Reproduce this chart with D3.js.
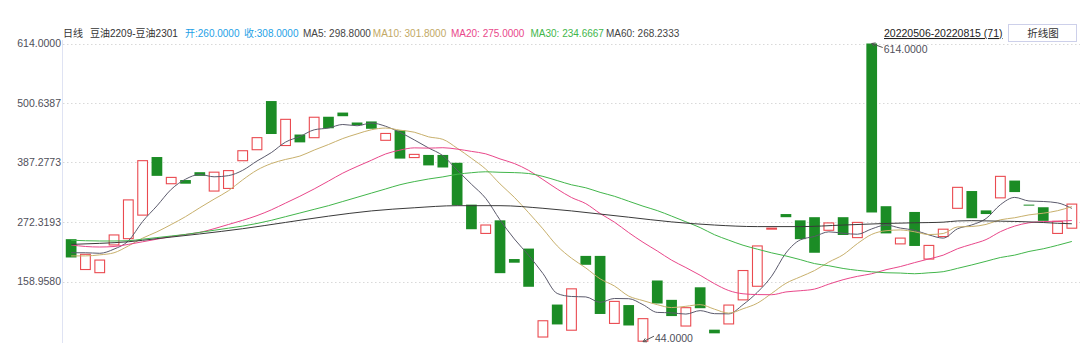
<!DOCTYPE html>
<html>
<head>
<meta charset="utf-8">
<script src="https://cdn.jsdelivr.net/npm/d3@7"></script>
<style>
  html, body { margin: 0; padding: 0; background: #fff; }
  svg { display: block; font-family: "Liberation Sans", Arial, "Noto Sans CJK SC", sans-serif; }
</style>
</head>
<body>
<script>
// 豆油2209-豆油2301 价差, 日线 20220506-20220815 (71)
const opens = [240, 181, 175, 228, 240, 285, 397, 345, 353, 368,
  331, 336, 389, 410, 504, 418, 440, 433, 474, 482,
  463, 465, 428, 448, 395, 401, 401, 386, 306, 250,
  276, 202, 222, 52, 115, 65, 208, 208, 78, 114,
  44, 161, 124, 73, 148, 67, 77, 123, 149, 259,
  288, 276, 282, 256, 282, 242, 614, 303, 230, 292,
  201, 244, 298, 332, 295, 318, 352, 306, 301, 250, 260];

const closes = [205, 212, 201, 249, 316, 391, 361, 359, 346, 361,
  369, 372, 410, 435, 441, 470, 425, 474, 452, 475,
  458, 451, 443, 394, 403, 381, 377, 305, 259, 268,
  175, 195, 149, 85, 77, 146, 191, 97, 122, 75,
  89, 117, 93, 110, 108, 60, 115, 181, 228, 262,
  282, 240, 214, 272, 248, 273, 291, 251, 243, 227,
  229, 260, 340, 280, 288, 361, 330, 306, 275, 275, 308];

// moving averages (null = not read)
const ma5 = [214, 214, 213, 221, 236.6, 273.8, 303.6, 335.2, 354.6, 363.6,
  359.2, 361.4, 371.6, 389.4, 405.4, 425.6, 436.2, 449, 452.4, 459.2,
  456.8, 462, 455.8, 444.2, 429.8, 414.4, 399.6, 372, 345, 318,
  276.8, 240.4, 209.2, 174.4, 136.2, 130.4, 129.6, 119.2, 126.6, 126.2,
  114.8, 100, 99.2, 96.8, 103.4, 97.6, 97.2, 114.8, 138.4, 169.2,
  213.6, 238.6, 245.2, 254, 251.2, 249.4, 259.6, 267, 261.2, 257,
  248.2, 242, 259.8, 267.2, 279.4, 305.8, 319.8, 313, 312, 309.4, 298.8];

const ma10 = [208, 208, 210, 214, 227, 242, 254, 268, 283, 300.1,
  316.5, 332.5, 353.4, 372, 384.5, 392.4, 398.8, 410.3, 420.9, 432.3,
  441.2, 449.1, 452.4, 448.3, 444.5, 435.6, 430.8, 413.9, 394.6, 373.9,
  345.6, 320, 290.6, 259.7, 227.1, 203.6, 185, 164.2, 150.5, 131.2,
  122.6, 114.8, 109.2, 111.7, 114.8, 106.2, 98.6, 107, 117.6, 136.3,
  155.6, 167.9, 180, 196.2, 210.2, 231.5, 249.1, 256.1, 257.6, 254.1,
  248.8, 250.8, 263.4, 264.2, 268.2, 277, 280.9, 286.4, 289.6, 294.4, 302.3];

const ma20 = [229, 226, 225, 226, 230, 235, 240, 245, 249, 253,
  260, 268, 276, 285, 296, 309, 322, 336, 351, 366.2,
  378.9, 390.8, 402.9, 410.2, 414.5, 414, 414.8, 412.1, 407.8, 403.1,
  393.4, 384.6, 371.5, 354, 335.8, 319.6, 307.9, 289.1, 272.6, 252.6,
  234.1, 217.4, 199.9, 185.7, 171, 154.9, 141.8, 135.6, 134.1, 133.8,
  139.1, 141.4, 144.6, 154, 162.5, 168.9, 173.9, 181.6, 187.6, 195.2,
  202.2, 209.4, 221.7, 230.2, 239.2, 254.3, 265, 271.3, 273.6, 274.3, 275.6];

const ma30 = [238, 237, 236.5, 236.5, 237, 240, 243, 246, 249, 253,
  257, 261, 265, 270, 276, 283, 290, 297, 304, 312,
  320, 328, 336, 344, 350, 355, 359, 364, 367, 368.8,
  367.8, 367.2, 365.5, 360, 352, 343.9, 338.2, 329.5, 322, 312.5,
  303.1, 294.6, 284.1, 273.2, 262.1, 248.5, 238.1, 228.4, 220.9, 213.8,
  207.9, 200.9, 193.3, 189.2, 184, 180.4, 177.6, 175.8, 175.2, 173.9,
  175.7, 177.8, 184.2, 190.7, 197.7, 204.9, 209.5, 216.5, 221.6, 228.3, 235.6];

const ma60 = [230, null, 232, null, 235, null, 241, null, null, 250,
  null, null, 260, null, null, 272, null, null, 284, null,
  null, 294, null, null, 300, null, null, 304, null, null,
  304, null, null, 299, null, 294, null, 288, null, 282,
  null, null, 273, null, null, 267, null, null, 264, null,
  null, 264, null, null, 267, null, null, 270, null, 271.3,
  271.7, 272.5, 274.8, 275.4, 274.9, 274.4, 273.9, 273, 271.8, 270.4, 269.4];

const yTicks = [614, 500.6387, 387.2773, 272.3193, 158.9580];
const lastOpen = 260, lastClose = 308;
const maNames = ["MA5", "MA10", "MA20", "MA30", "MA60"];
const maLast = [298.8, 301.8, 275.0, 234.6667, 268.2333];

const width = 1080, height = 343;
const upColor = "#ea4a50", downColor = "#1b8c25";
const maColors = ["#5b5a6c", "#c8b06c", "#e9478a", "#42b64b", "#3a3a3a"];
const fmt = d3.format(".4f");

const svg = d3.select("body").append("svg")
  .attr("width", width)
  .attr("height", height);

const x = d3.scaleBand()
  .domain(d3.range(closes.length))
  .range([64, 1079])
  .paddingInner(0.25)
  .paddingOuter(0.125);
const cx = i => x(i) + x.bandwidth() / 2;

const y = d3.scaleLinear().domain([44, 614]).range([341.7, 43.5]);

// dotted grid
svg.append("g")
  .selectAll("line")
  .data(yTicks)
  .join("line")
  .attr("x1", 63).attr("x2", width)
  .attr("y1", d => Math.round(y(d)) + 0.5)
  .attr("y2", d => Math.round(y(d)) + 0.5)
  .attr("stroke", "#d9d9d9")
  .attr("stroke-dasharray", "1.5,2.5");

// left axis
const axis = svg.append("g")
  .attr("transform", "translate(62,0)")
  .call(d3.axisLeft(y).tickValues(yTicks).tickFormat(fmt).tickSize(0).tickPadding(1));
axis.select(".domain").attr("stroke", "#dfe3f3").attr("d", "M0.5,343V40");
axis.selectAll("text").attr("fill", "#4f4f5a").style("font-size", "10.5px");

// candles
const candles = d3.range(closes.length).map(i => ({i, o: opens[i], c: closes[i]}));

svg.append("g")
  .selectAll("rect")
  .data(candles)
  .join("rect")
  .attr("x", d => d.c > d.o ? x(d.i) + 0.5 : x(d.i))
  .attr("width", d => d.c > d.o ? x.bandwidth() - 1 : x.bandwidth())
  .attr("y", d => d.c > d.o ? y(Math.max(d.o, d.c)) + 0.5 : y(Math.max(d.o, d.c)))
  .attr("height", d => {
    const h = Math.abs(y(d.o) - y(d.c));
    return d.c > d.o ? Math.max(1, h - 1) : Math.max(1, h);
  })
  .attr("fill", d => d.c > d.o ? "#fff" : downColor)
  .attr("stroke", d => d.c > d.o ? upColor : "none")
  .attr("stroke-width", 1.1);

// moving averages
const line = d3.line()
  .x(d => cx(d.i))
  .y(d => y(d.v))
  .curve(d3.curveMonotoneX);

[ma5, ma10, ma20, ma30, ma60].forEach((arr, k) => {
  const pts = arr.map((v, i) => ({i, v})).filter(d => d.v != null);
  svg.append("path")
    .datum(pts)
    .attr("d", line)
    .attr("fill", "none")
    .attr("stroke", maColors[k])
    .attr("stroke-width", 1);
});

// max / min markers
const allVals = opens.concat(closes);
const maxV = d3.max(allVals), minV = d3.min(allVals);
const maxI = d3.range(closes.length).find(i => opens[i] === maxV || closes[i] === maxV);
const minI = d3.range(closes.length).find(i => opens[i] === minV || closes[i] === minV);

function marker(i, v, dy) {
  const tx = cx(i), ty = y(v);
  const ex = tx + 11, ey = ty + dy;
  const g = svg.append("g").attr("stroke", "#555").attr("fill", "none").attr("stroke-width", 1);
  g.append("line").attr("x1", tx).attr("y1", ty).attr("x2", ex).attr("y2", ey);
  const a = Math.atan2(ey - ty, ex - tx);
  [0.5, -0.5].forEach(s => {
    g.append("line")
      .attr("x1", tx).attr("y1", ty)
      .attr("x2", tx + 4 * Math.cos(a + s)).attr("y2", ty + 4 * Math.sin(a + s));
  });
  svg.append("text")
    .attr("x", ex + 1).attr("y", ey + 2)
    .attr("dy", "0.35em")
    .attr("fill", "#4f4f5a")
    .style("font-size", "10.5px")
    .text(fmt(v));
}
marker(maxI, maxV, 4);
marker(minI, minV, -5.5);

// header (positions, pushed right if they would touch)
const head = svg.append("g").style("font-size", "10px");
const headItems = [
  {x: 63, t: "日线", c: "#333"},
  {x: 90, t: "豆油2209-豆油2301", c: "#333"},
  {x: 185, t: "开:" + fmt(lastOpen), c: "#1e9fe6"},
  {x: 244, t: "收:" + fmt(lastClose), c: "#1e9fe6"}
];
const maX = [303, 372, 451, 530.5, 603.5];
const maTextColors = ["#444", "#c2a965", "#e9478a", "#42b64b", "#444"];
maNames.forEach((n, k) => {
  headItems.push({x: maX[k], t: n + ": " + fmt(maLast[k]), c: maTextColors[k]});
});

let prevEnd = 0;
headItems.forEach(d => {
  const t = head.append("text")
    .attr("y", 37)
    .attr("fill", d.c)
    .text(d.t);
  const xx = Math.max(d.x, prevEnd + 2);
  t.attr("x", xx);
  prevEnd = xx + t.node().getComputedTextLength();
});

svg.append("text")
  .attr("x", 884)
  .attr("y", 37)
  .attr("fill", "#222")
  .style("font-size", "10.5px")
  .style("text-decoration", "underline")
  .text("20220506-20220815 (71)");

svg.append("rect")
  .attr("x", 1008.5).attr("y", 24.5)
  .attr("width", 68).attr("height", 17)
  .attr("fill", "#fff")
  .attr("stroke", "#cdd0ea");

svg.append("text")
  .attr("x", 1043)
  .attr("y", 37)
  .attr("text-anchor", "middle")
  .attr("fill", "#333")
  .style("font-size", "10.5px")
  .text("折线图");
</script>
</body>
</html>
